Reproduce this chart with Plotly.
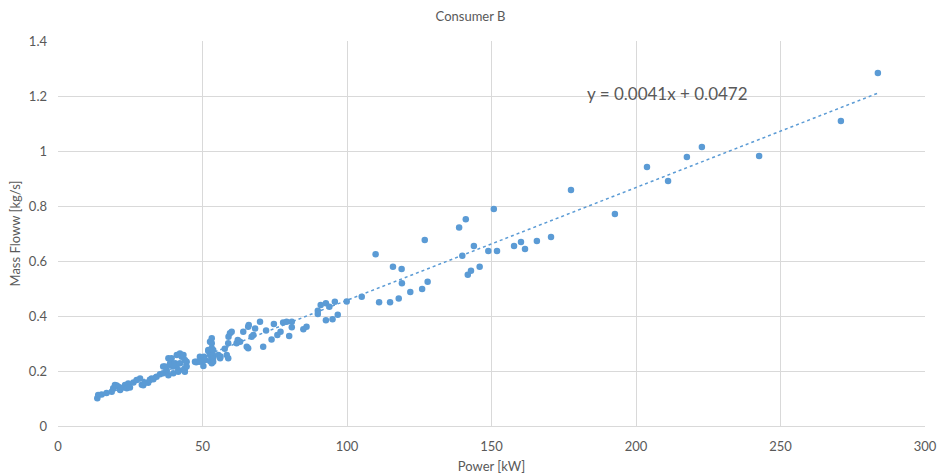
import plotly.graph_objects as go

# Measured operating points for consumer B
power_kw = [
    13.6, 13.9, 15.1, 16.8, 18.6, 19.1, 19.7, 20.3, 20.9, 21.5, 22.6, 23.2, 23.8, 24.3, 24.9,
    26.1, 27.2, 28.4, 29.0, 29.5, 30.1, 31.2, 31.8, 32.4, 33.0, 34.1, 35.3, 36.4, 36.4, 37.0,
    37.6, 37.6, 38.2, 38.2, 38.8, 38.8, 39.3, 39.9, 39.9, 40.5, 41.1, 41.1, 41.6, 41.6, 42.2,
    42.2, 42.8, 43.4, 43.4, 43.9, 43.9, 43.9, 44.5, 44.5,
    47.4, 47.8, 48.0, 49.1, 49.1, 50.3, 50.3, 50.5, 50.9, 52.0, 52.0, 52.6, 52.6, 52.6, 53.2,
    53.2, 53.2, 53.2, 53.7, 53.7, 53.7, 53.7, 55.5, 56.1, 56.2, 57.7, 58.4, 58.9, 58.9, 59.0,
    59.5, 60.1, 61.8, 62.2, 63.0, 64.1, 65.3, 65.8, 65.8, 66.0, 67.0, 67.6, 68.2, 69.9,
    71.0, 72.0, 73.9, 74.7, 75.9, 77.0, 77.9, 79.1, 80.0, 80.9, 80.9, 84.9, 86.0, 89.9, 89.9,
    90.9, 92.7, 92.7, 93.9, 95.0, 95.8, 96.8, 99.9,
    105.1, 109.9, 111.1, 114.9, 115.9, 117.9, 118.9, 119.0, 121.9, 126.0, 126.9, 127.9, 138.8,
    139.9, 141.1, 141.8, 142.9, 143.9, 145.9, 148.9, 150.8, 151.9, 157.8, 160.2, 161.6, 165.7,
    170.6, 177.5, 192.7, 203.8, 211.1, 217.6, 222.8, 242.6, 270.9, 283.7,
]
mass_flow = [
    0.101, 0.113, 0.115, 0.120, 0.125, 0.137, 0.149, 0.147, 0.143, 0.131, 0.140, 0.149, 0.137, 0.155, 0.140,
    0.158, 0.167, 0.173, 0.150, 0.148, 0.158, 0.157, 0.167, 0.173, 0.170, 0.179, 0.188, 0.192, 0.216, 0.216,
    0.197, 0.204, 0.185, 0.246, 0.222, 0.228, 0.246, 0.192, 0.216, 0.228, 0.222, 0.258, 0.197, 0.204, 0.228,
    0.264, 0.252, 0.258, 0.204, 0.240, 0.210, 0.197, 0.216, 0.234,
    0.234, 0.232, 0.234, 0.252, 0.234, 0.218, 0.240, 0.252, 0.240, 0.276, 0.273, 0.306, 0.258, 0.236, 0.319,
    0.301, 0.283, 0.228, 0.276, 0.256, 0.246, 0.234, 0.258, 0.246, 0.253, 0.281, 0.258, 0.246, 0.301, 0.325,
    0.337, 0.343, 0.301, 0.313, 0.306, 0.343, 0.288, 0.361, 0.283, 0.367, 0.325, 0.331, 0.355, 0.379,
    0.288, 0.347, 0.315, 0.371, 0.331, 0.343, 0.376, 0.379, 0.327, 0.379, 0.359, 0.352, 0.361, 0.419, 0.407,
    0.440, 0.446, 0.385, 0.434, 0.388, 0.452, 0.405, 0.453,
    0.470, 0.625, 0.450, 0.450, 0.579, 0.464, 0.571, 0.519, 0.487, 0.498, 0.676, 0.525, 0.722,
    0.619, 0.752, 0.550, 0.565, 0.655, 0.579, 0.636, 0.789, 0.636, 0.655, 0.669, 0.644, 0.673,
    0.687, 0.858, 0.771, 0.942, 0.891, 0.978, 1.015, 0.982, 1.109, 1.284,
]

# Linear trend fitted to the data
slope = 0.0041
intercept = 0.0472

x_ticks = [0, 50, 100, 150, 200, 250, 300]
y_ticks = [0, 0.2, 0.4, 0.6, 0.8, 1.0, 1.2, 1.4]
y_tick_text = ["0", "0.2", "0.4", "0.6", "0.8", "1", "1.2", "1.4"]

blue = "#5b9bd5"
grey_text = "#595959"
grid = "#d9d9d9"
font_family = "Lato, 'Liberation Sans', sans-serif"

trend_x = [min(power_kw), max(power_kw)]
trend_y = [slope * v + intercept for v in trend_x]

fig = go.Figure()
fig.add_trace(go.Scatter(
    x=power_kw, y=mass_flow, mode="markers",
    marker=dict(color=blue, size=6.5, line=dict(width=0)),
    showlegend=False,
))
fig.add_trace(go.Scatter(
    x=trend_x, y=trend_y, mode="lines",
    line=dict(color=blue, width=1.5, dash="dot"),
    showlegend=False,
))

fig.add_annotation(
    x=211, y=1.21, xref="x", yref="y",
    text=f"y = {slope}x + {intercept}",
    showarrow=False,
    font=dict(size=17, color=grey_text, family=font_family),
)

fig.update_layout(
    width=941, height=476,
    margin=dict(l=58, r=16, t=41, b=50),
    paper_bgcolor="white", plot_bgcolor="white",
    font=dict(family=font_family, color=grey_text, size=13),
    title=dict(text="Consumer B", x=0.5, xanchor="center", y=0.966, yanchor="middle",
               font=dict(size=13, color=grey_text)),
)
fig.update_xaxes(
    range=[0, 300], tickvals=x_ticks, showgrid=True, gridcolor=grid, gridwidth=1,
    zeroline=False, showline=True, linecolor=grid, linewidth=1, automargin=False,
    ticks="", ticklabelstandoff=8,
    title=dict(text="Power [kW]", font=dict(size=13, color=grey_text), standoff=9),
)
fig.update_yaxes(
    range=[0, 1.4], tickvals=y_ticks, ticktext=y_tick_text, showgrid=True, gridcolor=grid,
    gridwidth=1, zeroline=False, showline=False, ticks="", ticklabelstandoff=10,
    automargin=False,
    title=dict(text="Mass Floww [kg/s]", font=dict(size=13, color=grey_text), standoff=5),
)

fig.write_html("out.html")
